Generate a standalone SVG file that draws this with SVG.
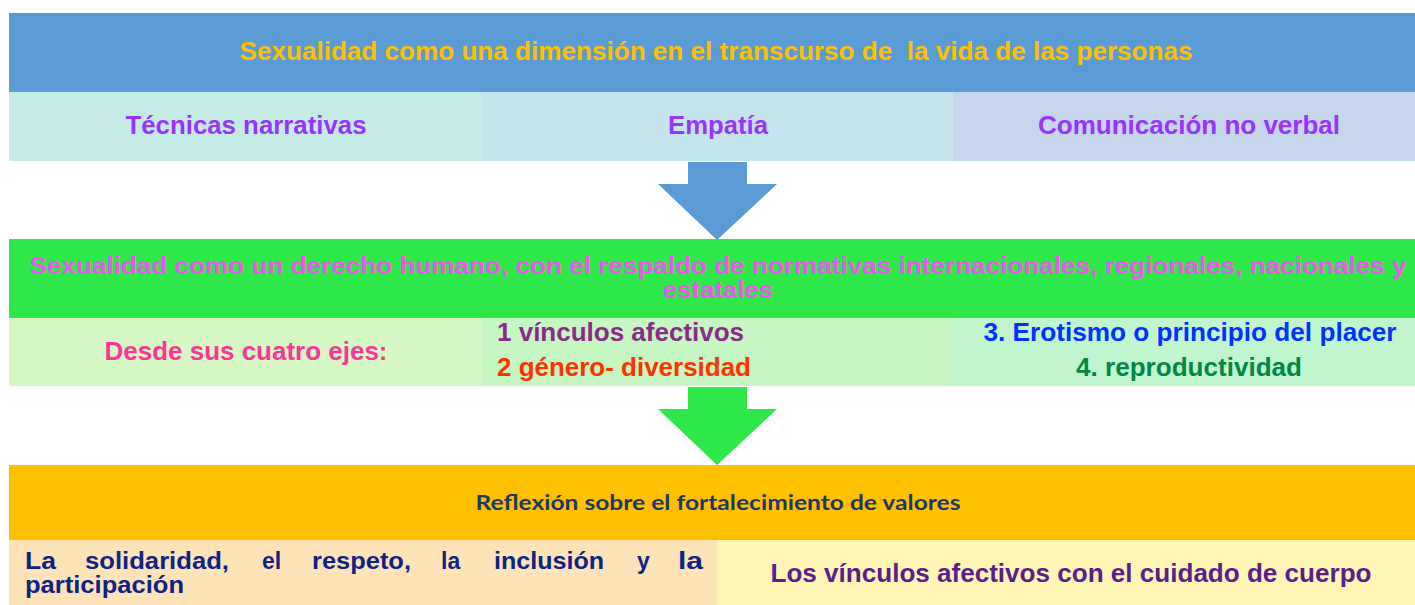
<svg xmlns="http://www.w3.org/2000/svg" width="1415" height="605" viewBox="0 0 1415 605">
<style>
text{font-family:"Liberation Sans",Arial,sans-serif;font-weight:bold;font-size:25.5px}
.c{text-anchor:middle}
.s{font-size:23px}
.cal{font-family:Lato,"Liberation Sans",sans-serif;font-size:20px}
</style>
<rect width="1415" height="605" fill="#ffffff"/>
<g id="top-title">
<rect x="9" y="13" width="1406" height="79" fill="#5B9BD5"/>
<text x="716" y="60" class="c" fill="#FFC000" textLength="953" lengthAdjust="spacingAndGlyphs">Sexualidad como una dimensión en el transcurso de&#160; la vida de las personas</text>
</g>
<g id="tecnicas">
<rect x="9" y="92" width="473" height="69" fill="#C5EBE6"/>
<text x="246" y="134" class="c" fill="#9933FF" textLength="241" lengthAdjust="spacingAndGlyphs">Técnicas narrativas</text>
</g>
<g id="empatia">
<rect x="482" y="92" width="471" height="69" fill="#C5E5EE"/>
<text x="718" y="134" class="c" fill="#9933FF" textLength="100" lengthAdjust="spacingAndGlyphs">Empatía</text>
</g>
<g id="comunicacion">
<rect x="953" y="92" width="462" height="69" fill="#C6D6EC"/>
<text x="1189" y="134" class="c" fill="#9933FF" textLength="302" lengthAdjust="spacingAndGlyphs">Comunicación no verbal</text>
</g>
<g id="derecho">
<rect x="9" y="239" width="1406" height="79" fill="#2EE84A"/>
<text x="718" y="274" class="c s" fill="#EE55EE" textLength="1377" lengthAdjust="spacingAndGlyphs">Sexualidad como un derecho humano, con el respaldo de normativas internacionales, regionales, nacionales y</text>
<text x="718" y="298" class="c s" fill="#EE55EE" textLength="110" lengthAdjust="spacingAndGlyphs">estatales</text>
</g>
<g id="ejes">
<rect x="9" y="318" width="473" height="68" fill="#D6F8C4"/>
<text x="246" y="360" class="c" fill="#FF3399" textLength="283" lengthAdjust="spacingAndGlyphs">Desde sus cuatro ejes:</text>
</g>
<g id="ejes-1-2">
<rect x="482" y="318" width="471" height="68" fill="#C6F6C2"/>
<text x="497" y="341" fill="#8B2A8B" textLength="247" lengthAdjust="spacingAndGlyphs">1 vínculos afectivos</text>
<text x="497" y="376" fill="#FF3300" textLength="254" lengthAdjust="spacingAndGlyphs">2 género- diversidad</text>
</g>
<g id="ejes-3-4">
<rect x="953" y="318" width="462" height="68" fill="#C0F5CE"/>
<text x="1190" y="341" class="c" fill="#0033FF" textLength="413" lengthAdjust="spacingAndGlyphs">3. Erotismo o principio del placer</text>
<text x="1189" y="376" class="c" fill="#008844" textLength="226" lengthAdjust="spacingAndGlyphs">4. reproductividad</text>
</g>
<g id="reflexion">
<rect x="9" y="465" width="1406" height="75" fill="#FFC000"/>
<text x="718" y="510" class="c cal" fill="#1F3864" textLength="485" lengthAdjust="spacingAndGlyphs">Reflexión sobre el fortalecimiento de valores</text>
</g>
<g id="solidaridad">
<rect x="9" y="540" width="708" height="65" fill="#FFE3B8"/>
<g fill="#0D2485">
<text x="25" y="569" class="s" textLength="31" lengthAdjust="spacingAndGlyphs">La</text>
<text x="85" y="569" class="s" textLength="144" lengthAdjust="spacingAndGlyphs">solidaridad,</text>
<text x="262" y="569" class="s">el</text>
<text x="312" y="569" class="s" textLength="99" lengthAdjust="spacingAndGlyphs">respeto,</text>
<text x="441" y="569" class="s">la</text>
<text x="494" y="569" class="s" textLength="110" lengthAdjust="spacingAndGlyphs">inclusión</text>
<text x="637" y="569" class="s">y</text>
<text x="678" y="569" class="s" textLength="25" lengthAdjust="spacingAndGlyphs">la</text>
<text x="25" y="593" class="s" textLength="159" lengthAdjust="spacingAndGlyphs">participación</text>
</g>
</g>
<g id="vinculos">
<rect x="717" y="540" width="698" height="65" fill="#FFF5B5"/>
<text x="1071" y="582" class="c" fill="#5C1E8C" textLength="601" lengthAdjust="spacingAndGlyphs">Los vínculos afectivos con el cuidado de cuerpo</text>
</g>
<g id="connectors">
<polygon points="688,162 747,162 747,184 777,184 717,240 658,184 688,184" fill="#5B9BD5"/>
<polygon points="688,387 747,387 747,409 777,409 717,465 658,409 688,409" fill="#2EE84A"/>
</g>
</svg>
